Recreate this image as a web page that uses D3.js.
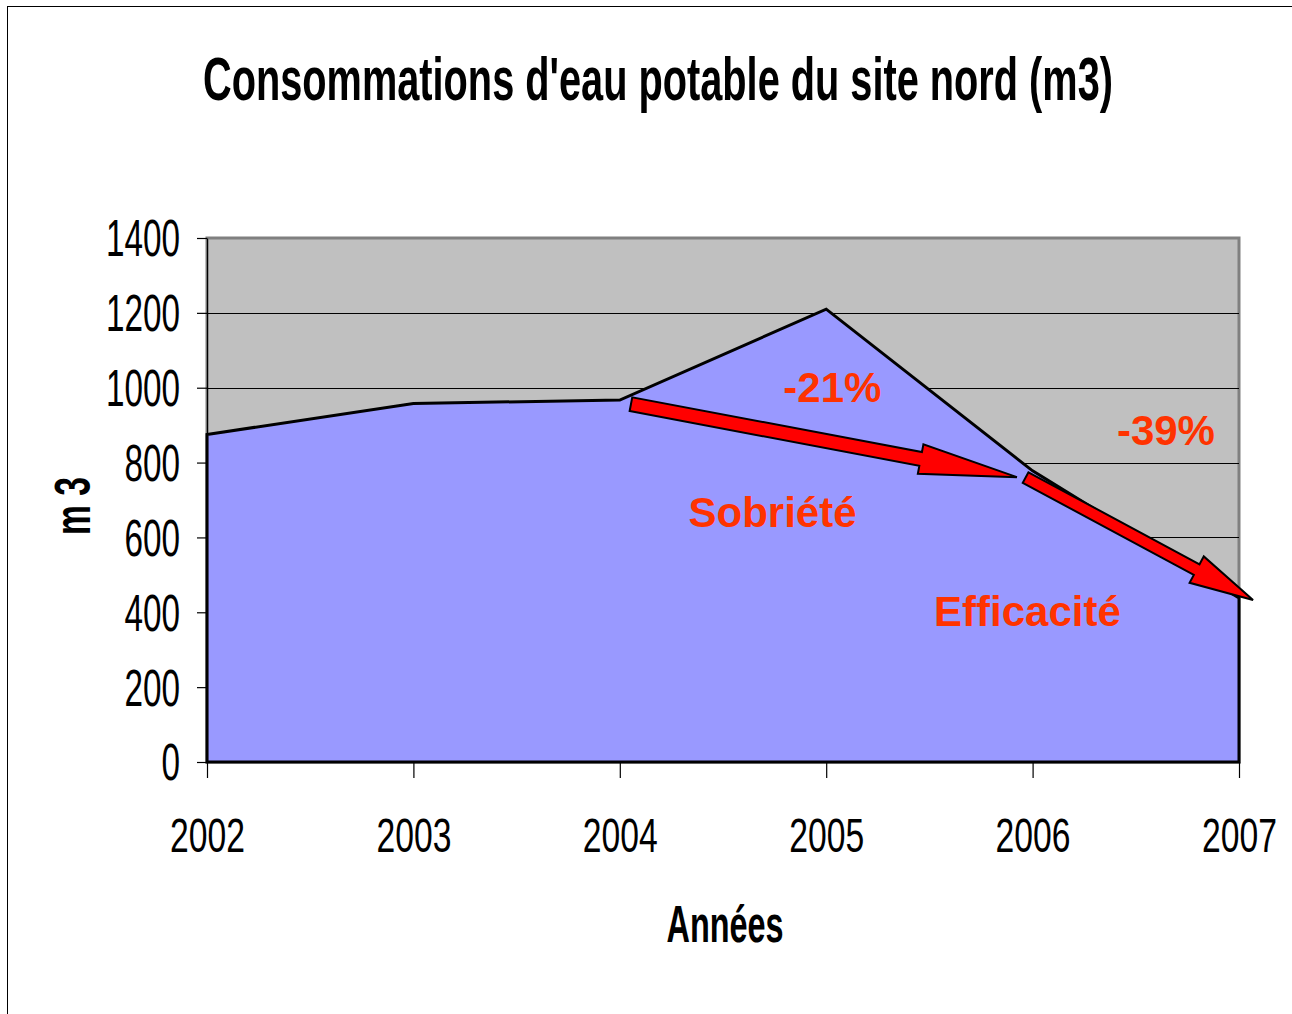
<!DOCTYPE html>
<html>
<head>
<meta charset="utf-8">
<title>Consommations d'eau potable</title>
<script src="https://d3js.org/d3.v7.min.js"></script>
<style>
	body { margin: 0; background: #fff; }
	.narrow { font-family: "Liberation Sans Narrow", "Arial Narrow", "Liberation Sans", Arial, sans-serif; }
	.note { font-family: "Liberation Sans", Arial, sans-serif; font-weight: bold; fill: #ff3300; }
</style>
</head>
<body>
<svg id="chart" width="1292" height="1014"></svg>
<script>
	// data
	var years = [2002, 2003, 2004, 2005, 2006, 2007];
	var volumes = [875, 958, 967, 1210, 778, 438];
	var yTicks = [0, 200, 400, 600, 800, 1000, 1200, 1400];
	var title = "Consommations d'eau potable du site nord (m3)";
	var xLabel = "Années";
	var yLabel = "m 3";

	// annotations, in year / m3 units
	var arrows = [
		{from: [2004.054, 956], to: [2005.924, 761], shaft: 14, head: 30, headLen: 98},
		{from: [2005.966, 760], to: [2007.068, 433], shaft: 12, head: 30, headLen: 64}
	];
	var notes = [
		{text: "-21%", x: 2005.03, y: 962},
		{text: "-39%", x: 2006.646, y: 847},
		{text: "Sobriété", x: 2004.74, y: 628},
		{text: "Efficacité", x: 2005.975, y: 363}
	];

	var margin = {top: 238, right: 53, bottom: 252, left: 207},
		width = 1292 - margin.left - margin.right,
		height = 1014 - margin.top - margin.bottom;

	var svg = d3.select("#chart");

	// outer frame
	svg.append("rect")
		.attr("x", 7.5).attr("y", 6.5)
		.attr("width", 1400).attr("height", 1200)
		.attr("fill", "none")
		.attr("stroke", "#000")
		.attr("stroke-width", 1);

	svg.append("text")
		.attr("class", "narrow")
		.attr("x", 658).attr("y", 100)
		.attr("text-anchor", "middle")
		.attr("font-size", 62)
		.attr("font-weight", "bold")
		.attr("textLength", 910)
		.attr("lengthAdjust", "spacingAndGlyphs")
		.text(title);

	var g = svg.append("g")
		.attr("transform", "translate(" + margin.left + "," + margin.top + ")");

	var x = d3.scaleLinear().domain([2002, 2007]).range([0, width]);
	var y = d3.scaleLinear().domain([0, 1400]).range([height, 0]);

	var rows = years.map(function(d, i) { return {year: d, value: volumes[i]}; });

	// plot background
	g.append("rect")
		.attr("width", width).attr("height", height)
		.attr("fill", "#c0c0c0")
		.attr("stroke", "#808080")
		.attr("stroke-width", 3);

	g.selectAll(".grid")
		.data(yTicks.filter(function(d) { return d > 0 && d < 1400; }))
		.enter().append("line")
		.attr("class", "grid")
		.attr("x1", 0).attr("x2", width)
		.attr("y1", function(d) { return Math.round(y(d)) + 0.5; })
		.attr("y2", function(d) { return Math.round(y(d)) + 0.5; })
		.attr("stroke", "#000")
		.attr("stroke-width", 1);

	var area = d3.area()
		.x(function(d) { return x(d.year); })
		.y0(height)
		.y1(function(d) { return y(d.value); });

	g.append("path")
		.datum(rows)
		.attr("d", area)
		.attr("fill", "#9999ff")
		.attr("stroke", "#000")
		.attr("stroke-width", 3)
		.attr("stroke-linejoin", "miter");

	// axes
	var yAxis = g.append("g")
		.attr("class", "narrow")
		.call(d3.axisLeft(y).tickValues(yTicks).tickFormat(d3.format("d")).tickSize(10).tickSizeOuter(0).tickPadding(17));
	yAxis.selectAll("text")
		.attr("font-size", 51)
		.attr("fill", "#000")
		.attr("dy", "0.35em")
		.attr("textLength", function(d) { return String(d).length * 18.5; })
		.attr("lengthAdjust", "spacingAndGlyphs");

	var xAxis = g.append("g")
		.attr("class", "narrow")
		.attr("transform", "translate(0," + height + ")")
		.call(d3.axisBottom(x).tickValues(years).tickFormat(d3.format("d")).tickSize(16).tickSizeOuter(0).tickPadding(39));
	xAxis.selectAll("text")
		.attr("font-size", 49)
		.attr("fill", "#000")
		.attr("textLength", 75)
		.attr("lengthAdjust", "spacingAndGlyphs");
	g.selectAll(".domain, .tick line").attr("stroke", "#000").attr("stroke-width", 1.2);

	// axis titles
	svg.append("text")
		.attr("class", "narrow")
		.attr("x", 725).attr("y", 942)
		.attr("text-anchor", "middle")
		.attr("font-size", 52)
		.attr("font-weight", "bold")
		.attr("textLength", 117)
		.attr("lengthAdjust", "spacingAndGlyphs")
		.text(xLabel);

	svg.append("text")
		.attr("class", "narrow")
		.attr("transform", "translate(90,506) rotate(-90)")
		.attr("text-anchor", "middle")
		.attr("font-size", 50)
		.attr("font-weight", "bold")
		.attr("textLength", 58)
		.attr("lengthAdjust", "spacingAndGlyphs")
		.text(yLabel);

	// arrows
	function arrowPoints(a) {
		var x0 = x(a.from[0]), y0 = y(a.from[1]),
			x1 = x(a.to[0]), y1 = y(a.to[1]);
		var len = Math.hypot(x1 - x0, y1 - y0);
		var ux = (x1 - x0) / len, uy = (y1 - y0) / len;
		var px = -uy, py = ux;
		var bx = x1 - ux * a.headLen, by = y1 - uy * a.headLen;
		var s = a.shaft / 2, h = a.head / 2;
		return [
			[x0 + px * s, y0 + py * s],
			[bx + px * s, by + py * s],
			[bx + px * h, by + py * h],
			[x1, y1],
			[bx - px * h, by - py * h],
			[bx - px * s, by - py * s],
			[x0 - px * s, y0 - py * s]
		];
	}

	g.selectAll(".arrow")
		.data(arrows)
		.enter().append("polygon")
		.attr("class", "arrow")
		.attr("points", function(d) { return arrowPoints(d).map(function(p) { return p.join(","); }).join(" "); })
		.attr("fill", "#ff0000")
		.attr("stroke", "#000")
		.attr("stroke-width", 2)
		.attr("stroke-linejoin", "miter");

	g.selectAll(".note")
		.data(notes)
		.enter().append("text")
		.attr("class", "note")
		.attr("x", function(d) { return x(d.x); })
		.attr("y", function(d) { return y(d.y); })
		.attr("text-anchor", "middle")
		.attr("font-size", 42)
		.text(function(d) { return d.text; });
</script>
</body>
</html>
